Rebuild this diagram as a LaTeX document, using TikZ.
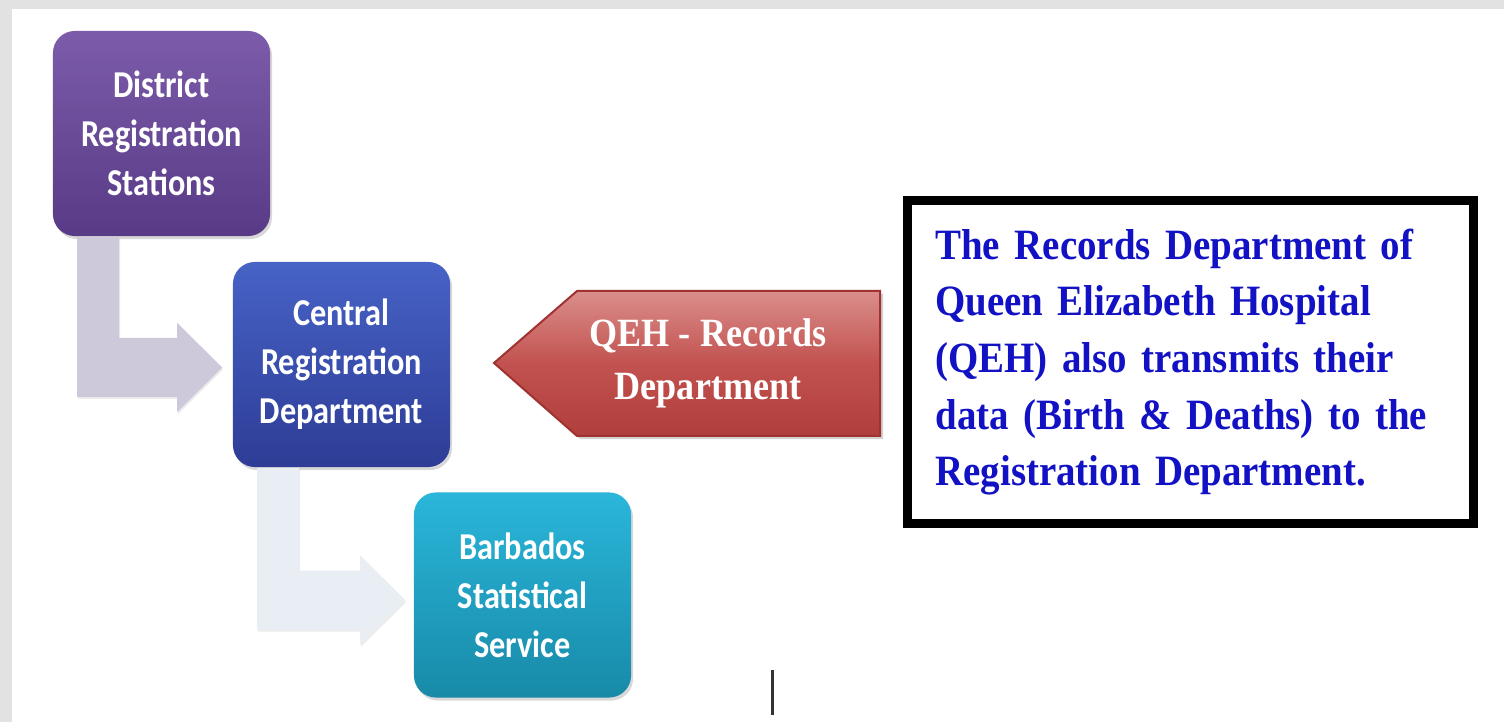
\documentclass[tikz,border=0pt]{standalone}
\usepackage{fontspec}
\newfontfamily\boxfont{Carlito}[FakeStretch=0.85]
\newfontfamily\notefont{Liberation Serif}[FakeStretch=0.9]
\usetikzlibrary{calc,shadows}
\definecolor{purpTop}{RGB}{124,92,170}
\definecolor{purpBot}{RGB}{88,58,134}
\definecolor{blueTop}{RGB}{70,99,198}
\definecolor{blueBot}{RGB}{46,60,150}
\definecolor{cyanTop}{RGB}{42,182,218}
\definecolor{cyanBot}{RGB}{24,138,168}
\definecolor{lavArrow}{RGB}{206,200,219}
\definecolor{paleArrow}{RGB}{233,237,244}
\definecolor{qehTop}{RGB}{218,142,140}
\definecolor{qehMid}{RGB}{194,82,79}
\definecolor{qehBot}{RGB}{176,62,60}
\definecolor{qehEdge}{RGB}{160,50,50}
\definecolor{noteBlue}{RGB}{18,18,196}
\definecolor{bgGrey}{RGB}{226,226,226}
\tikzset{
  stage/.style={rounded corners=0.22cm,minimum width=2.17cm,minimum height=2.05cm,
    align=center,text=white,font=\boxfont\bfseries\fontsize{10.8}{13.9}\selectfont,
    drop shadow={opacity=0.3,shadow xshift=0.02cm,shadow yshift=-0.03cm}},
  bentarrow/.style={drop shadow={opacity=0.15,shadow xshift=0.01cm,shadow yshift=-0.02cm}},
  notebox/.style={draw=black,line width=0.09cm,fill=white,text width=5.1cm,
    inner xsep=0.28cm,minimum height=3.23cm,align=left,text=noteBlue,
    font=\notefont\bfseries\fontsize{12.3}{16.1}\selectfont}
}
\begin{document}
\begin{tikzpicture}[x=0.01cm,y=-0.01cm]
\useasboundingbox (0,0) rectangle (1504,722);
\fill[bgGrey] (0,0) rectangle (1504,722);
\fill[white] (12,9) rectangle (1504,722);

% the three stages
\node[stage,top color=purpTop,bottom color=purpBot] (dist) at (161.5,133.5) {District\\Registration\\Stations};
\node[stage,top color=blueTop,bottom color=blueBot] (cent) at (341.5,364.5) {Central\\Registration\\Department};
\node[stage,top color=cyanTop,bottom color=cyanBot] (stat) at (522.5,595) {Barbados\\Statistical\\Service};

% bent arrows between them
\coordinate (tipA) at ($(cent.west)+(-10,3)$);
\fill[lavArrow,bentarrow] ($(dist.south west)+(25,0)$) coordinate (stemA) -- ++(42,0) |- ($(tipA)+(-45,-29.5)$)
  -- ++(0,-15) -- (tipA) -- ++(-45,44.5) -- ++(0,-15) -| (stemA) -- cycle;
\coordinate (tipB) at ($(stat.west)+(-8,5)$);
\fill[paleArrow,bentarrow] ($(cent.south west)+(25,0)$) coordinate (stemB) -- ++(42,0) |- ($(tipB)+(-45,-29.5)$)
  -- ++(0,-15) -- (tipB) -- ++(-45,44.5) -- ++(0,-15) -| (stemB) -- cycle;

% QEH arrow
\coordinate (qc) at (708,363);
\filldraw[draw=qehEdge,line width=0.02cm,top color=qehTop,bottom color=qehBot,middle color=qehMid,
  drop shadow={opacity=0.35,shadow xshift=0.03cm,shadow yshift=-0.03cm}]
  ($(qc)+(172,-72)$) -- ($(qc)+(172,73)$) -- ($(qc)+(-131,73)$) -- ($(qc)+(-214,0)$) -- ($(qc)+(-131,-72)$) -- cycle;
\node[align=center,text=white,font=\notefont\bfseries\fontsize{11.4}{15.1}\selectfont] (qeh) at (qc) {QEH - Records\\Department};

% note on the right
\node[notebox] (note) at (1190.5,362) {The Records Department of\\Queen Elizabeth Hospital\\(QEH) also transmits their\\data (Birth \& Deaths) to the\\Registration Department.};

\draw[line width=0.03cm,black!80] (772,670) -- (772,715);
\end{tikzpicture}
\end{document}
